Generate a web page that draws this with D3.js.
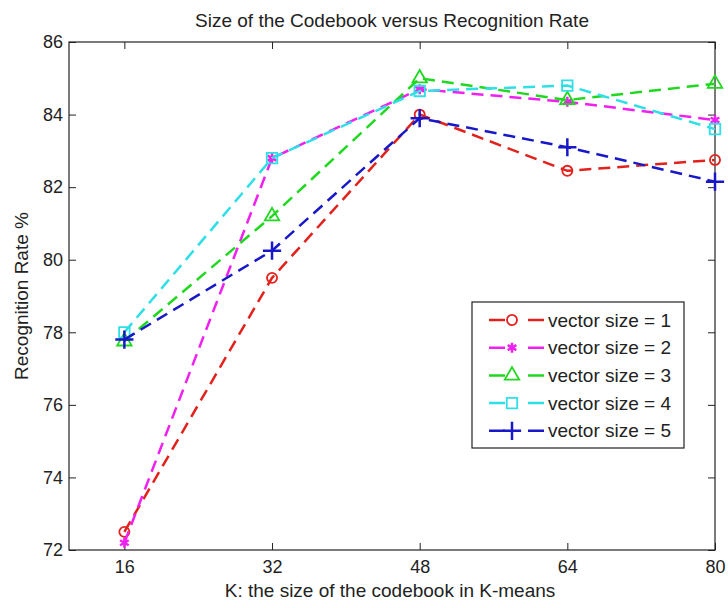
<!DOCTYPE html>
<html>
<head>
<meta charset="utf-8">
<script src="https://cdn.jsdelivr.net/npm/d3@7"></script>
<style>
  body { margin: 0; background: #fff; }
  text { font-family: "Liberation Sans", Arial, sans-serif; fill: #222; }
</style>
</head>
<body>
<div class="chart"></div>
<script>
// codebook sizes on the x axis
var kValues = [16, 32, 48, 64, 80]
var yTicks = [72, 74, 76, 78, 80, 82, 84, 86]

// recognition rate for each vector size
var size1 = [72.5, 79.5, 84.0, 82.45, 82.75]
var size2 = [72.2, 82.8, 84.7, 84.35, 83.85]
var size3 = [77.75, 81.2, 85.0, 84.4, 84.85]
var size4 = [78.0, 82.8, 84.65, 84.8, 83.6]
var size5 = [77.8, 80.25, 83.9, 83.1, 82.15]

var seriesNames = ['vector size = 1', 'vector size = 2', 'vector size = 3', 'vector size = 4', 'vector size = 5']

var series = [
  { name: seriesNames[0], values: size1, color: '#e3211c', symbol: d3.symbolCircle, size: 80 },
  { name: seriesNames[1], values: size2, color: '#f020f0', symbol: d3.symbolAsterisk, size: 70 },
  { name: seriesNames[2], values: size3, color: '#1fd81f', symbol: d3.symbolTriangle, size: 90 },
  { name: seriesNames[3], values: size4, color: '#2edfe6', symbol: d3.symbolSquare, size: 110 },
  { name: seriesNames[4], values: size5, color: '#1818c8', symbol: d3.symbolPlus, size: 110 },
]

var W = 728, H = 608
// plot box edges (named so they don't clash with window.top)
var pLeft = 69, pRight = 715, pTop = 42, pBottom = 550

var svg = d3.select('.chart')
  .append('svg')
    .attr('width', W)
    .attr('height', H)

var x = d3.scaleLinear().domain([10, 80]).range([pLeft, pRight])
var y = d3.scaleLinear().domain([72, 86]).range([pBottom, pTop])

// axes: ticks point inward, on all four sides
svg.append('g')
  .attr('transform', 'translate(0,' + pBottom + ')')
  .call(d3.axisBottom(x).tickValues(kValues).tickSize(-7).tickPadding(10))
svg.append('g')
  .attr('transform', 'translate(0,' + pTop + ')')
  .call(d3.axisTop(x).tickValues(kValues).tickSize(-7).tickFormat(''))
svg.append('g')
  .attr('transform', 'translate(' + pLeft + ',0)')
  .call(d3.axisLeft(y).tickValues(yTicks).tickSize(-7).tickPadding(6))
svg.append('g')
  .attr('transform', 'translate(' + pRight + ',0)')
  .call(d3.axisRight(y).tickValues(yTicks).tickSize(-7).tickFormat(''))

svg.selectAll('.domain').remove()
svg.selectAll('.tick line').attr('stroke', '#222')
svg.selectAll('.tick text')
  .style('font-size', '18px')
  .attr('fill', '#222')

svg.append('rect')
  .attr('x', pLeft)
  .attr('y', pTop)
  .attr('width', pRight - pLeft)
  .attr('height', pBottom - pTop)
  .attr('fill', 'none')
  .attr('stroke', '#222')
  .attr('stroke-width', 1.2)

// titles
svg.append('text')
  .attr('x', 392)
  .attr('y', 27)
  .attr('text-anchor', 'middle')
  .style('font-size', '19px')
  .text('Size of the Codebook versus Recognition Rate')

svg.append('text')
  .attr('x', 390)
  .attr('y', 597)
  .attr('text-anchor', 'middle')
  .style('font-size', '19px')
  .text('K: the size of the codebook in K-means')

svg.append('text')
  .attr('transform', 'translate(28,296) rotate(-90)')
  .attr('text-anchor', 'middle')
  .style('font-size', '19px')
  .text('Recognition Rate %')

var line = d3.line()
  .x((d, i) => x(kValues[i]))
  .y(d => y(d))

var groups = svg.selectAll('.series')
  .data(series)
  .enter()
    .append('g')
    .attr('class', 'series')

groups.append('path')
  .attr('d', d => line(d.values))
  .attr('fill', 'none')
  .attr('stroke', d => d.color)
  .attr('stroke-width', 2.5)
  .attr('stroke-dasharray', '12,7')

// markers, drawn open like matlab
groups.each(function(s) {
  d3.select(this).selectAll('.mark')
    .data(s.values)
    .enter()
      .append('path')
      .attr('class', 'mark')
      .attr('transform', (d, i) => 'translate(' + x(kValues[i]) + ',' + y(d) + ')')
      .attr('d', d3.symbol().type(s.symbol).size(s.size))
      .attr('fill', 'none')
      .attr('stroke', s.color)
      .attr('stroke-width', s.symbol === d3.symbolAsterisk || s.symbol === d3.symbolPlus ? 2.5 : 1.8)
})

// legend box
var lg = svg.append('g').attr('transform', 'translate(472,302)')
lg.append('rect')
  .attr('width', 212)
  .attr('height', 146)
  .attr('fill', '#fff')
  .attr('stroke', '#222')
  .attr('stroke-width', 1.2)

var item = lg.selectAll('.item')
  .data(series)
  .enter()
    .append('g')
    .attr('class', 'item')
    .attr('transform', (d, i) => 'translate(0,' + (18 + i * 27.7) + ')')

item.append('line')
  .attr('x1', 17).attr('x2', 72)
  .attr('stroke', d => d.color)
  .attr('stroke-width', 2.5)
  .attr('stroke-dasharray', '16,23,16')

item.append('path')
  .attr('transform', 'translate(40,0)')
  .attr('d', d => d3.symbol().type(d.symbol).size(d.size)())
  .attr('fill', 'none')
  .attr('stroke', d => d.color)
  .attr('stroke-width', d => d.symbol === d3.symbolAsterisk || d.symbol === d3.symbolPlus ? 2.5 : 1.8)

item.append('text')
  .attr('x', 76)
  .attr('dy', '0.35em')
  .style('font-size', '19px')
  .text(d => d.name)
</script>
</body>
</html>
